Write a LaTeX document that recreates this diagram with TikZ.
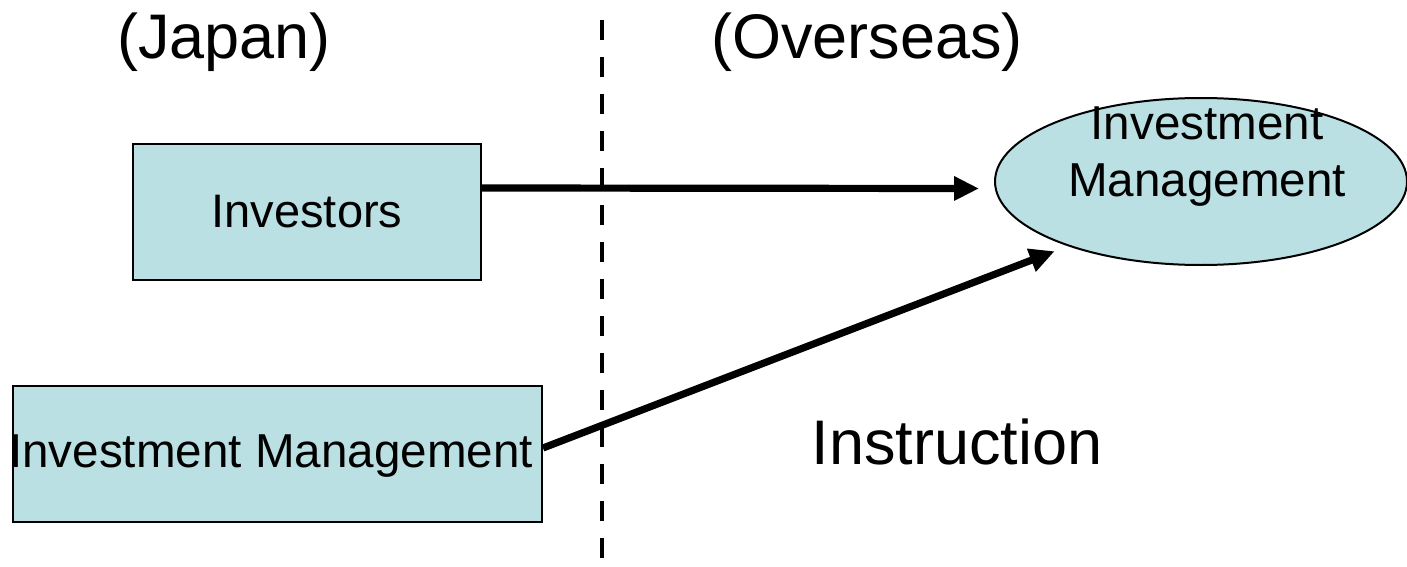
\documentclass[tikz,border=0pt]{standalone}
\usepackage{fontspec}
\setmainfont{Liberation Sans}
\usetikzlibrary{arrows.meta,shapes.geometric}
\definecolor{boxfill}{RGB}{186,224,227}
\begin{document}
\begin{tikzpicture}[x=0.5pt,y=-0.5pt,
  boxnode/.style={draw=black,line width=1pt,fill=boxfill,inner sep=0pt,minimum height=68pt,font=\fontsize{23.5}{28}\selectfont},
  ellnode/.style={ellipse,draw=black,line width=1pt,fill=boxfill,inner sep=0pt,minimum width=206pt,minimum height=83.5pt},
  bigtext/.style={font=\fontsize{31.5}{36}\selectfont,inner sep=0pt},
  midtext/.style={font=\fontsize{23.8}{28.5}\selectfont,inner sep=0pt,align=center},
  conn/.style={line width=3.6pt,-{Triangle[length=12.5pt,width=11.5pt]}},
  divider/.style={line width=2.3pt,dash pattern=on 10pt off 8.5pt}]
\useasboundingbox (0,0) rectangle (1407,567);
\fill[white] (0,0) rectangle (1407,567);
\draw[divider] (602,20) -- (602,567);
\node[bigtext] (japan) at (224,42) {(Japan)};
\node[bigtext] (overseas) at (867,42) {(Overseas)};
\node[boxnode,minimum width=174pt] (inv) at (307,212) {Investors};
\node[boxnode,minimum width=264.5pt] (mgmt) at (277.5,454) {};
\node[midtext] (mgmttext) at (271,456) {Investment Management};
\node[ellnode] (ell) at (1201,181.5) {};
\node[midtext] (elltext) at (1207,157) {Investment\\Management};
\node[bigtext] (instr) at (957,442) {Instruction};
\draw[conn] ([yshift=12pt]inv.east) -- ([xshift=-7.5pt,yshift=-3.5pt]ell.west);
\draw[conn] ([yshift=3pt]mgmt.east) -- ([yshift=-5pt]ell.south west);
\end{tikzpicture}
\end{document}
